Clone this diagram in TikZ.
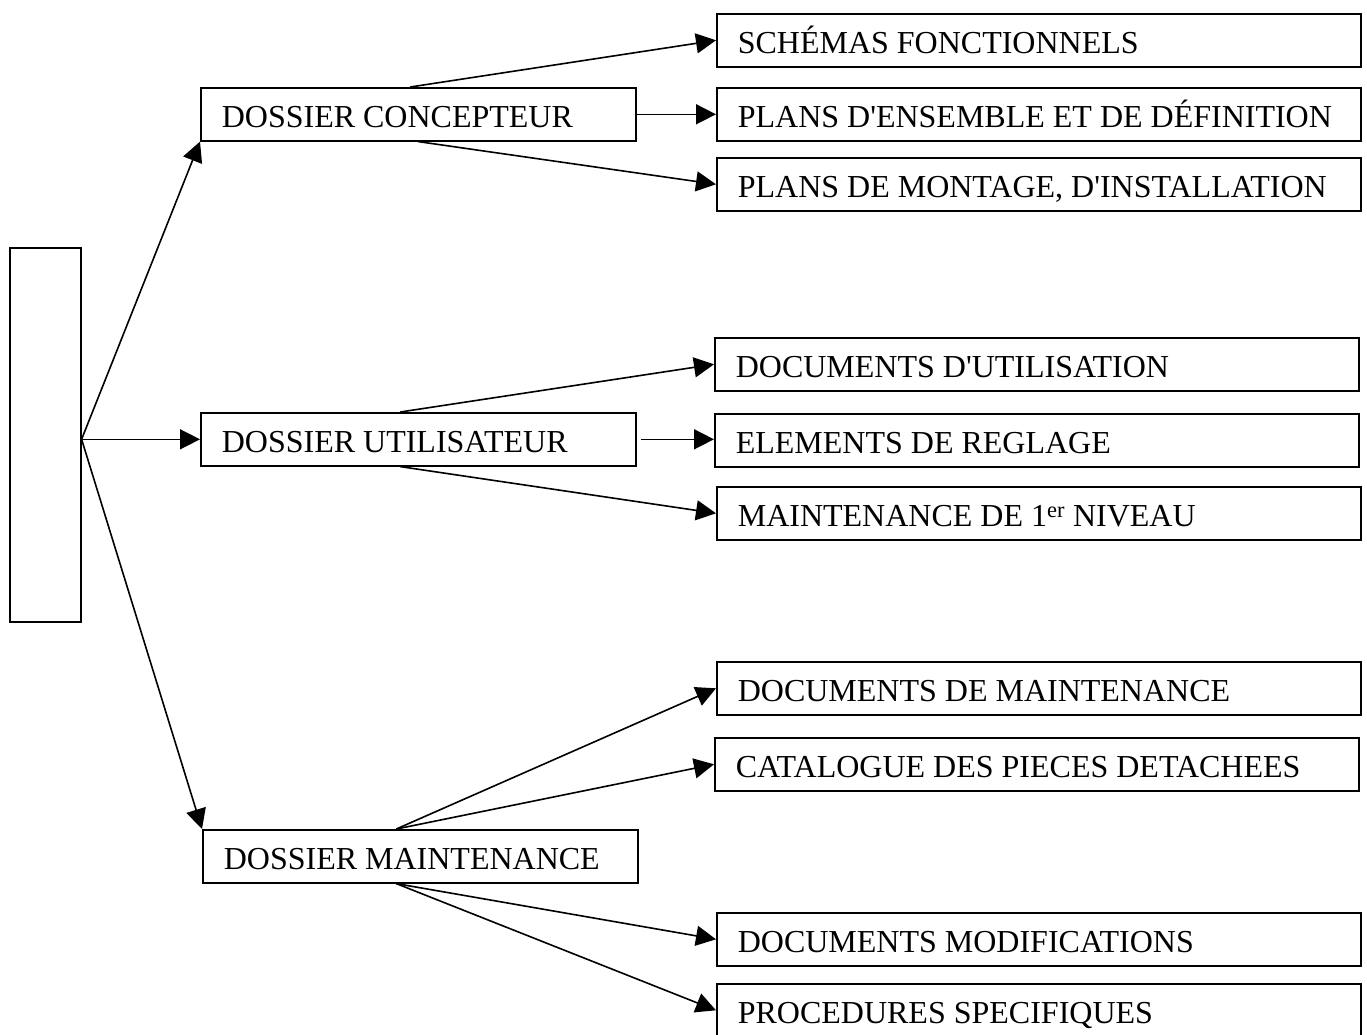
\documentclass[tikz,border=0pt]{standalone}
\usepackage{fontspec}
\setmainfont{Liberation Serif}
\usetikzlibrary{arrows.meta}
% left-aligned label of a fixed width (the box width minus the insets)
\newcommand\fixedlabel[2]{\makebox[#1][l]{#2}}
\begin{document}
\begin{tikzpicture}[x=1pt,y=-1pt,
  frame/.style={draw, line width=1.6pt, anchor=north west, inner ysep=0pt,
    inner xsep=21pt, minimum height=53pt, text height=27pt, text depth=0pt,
    font=\fontsize{32}{38}\selectfont},
  conn/.style={line width=1.6pt, -{Triangle[length=20pt,width=20pt]}}]
\useasboundingbox (0,0) rectangle (1367,1034);

% root block
\node[draw, line width=1.6pt, anchor=north west, inner sep=0pt,
      minimum width=71pt, minimum height=374pt] (root) at (9,247) {};

% the three dossiers
\node[frame] (conc) at (200,87)  {\fixedlabel{393pt}{DOSSIER CONCEPTEUR}};
\node[frame] (util) at (200,412) {\fixedlabel{393pt}{DOSSIER UTILISATEUR}};
\node[frame] (mont) at (202,829) {\fixedlabel{393pt}{DOSSIER MAINTENANCE}};

% documents of each dossier
\node[frame] (c1) at (716,13)  {\fixedlabel{602pt}{SCHÉMAS FONCTIONNELS}};
\node[frame] (c2) at (716,87)  {\fixedlabel{602pt}{PLANS D\textquotesingle ENSEMBLE ET DE DÉFINITION}};
\node[frame] (c3) at (716,157) {\fixedlabel{602pt}{PLANS DE MONTAGE, D\textquotesingle INSTALLATION}};
\node[frame] (u1) at (714,337) {\fixedlabel{602pt}{DOCUMENTS D\textquotesingle UTILISATION}};
\node[frame] (u2) at (714,413) {\fixedlabel{602pt}{ELEMENTS DE REGLAGE}};
\node[frame] (u3) at (716,486) {\fixedlabel{602pt}{MAINTENANCE DE 1\textsuperscript{er} NIVEAU}};
\node[frame] (m1) at (716,661) {\fixedlabel{602pt}{DOCUMENTS DE MAINTENANCE}};
\node[frame] (m2) at (714,737) {\fixedlabel{602pt}{CATALOGUE DES PIECES DETACHEES}};
\node[frame] (m3) at (716,912) {\fixedlabel{602pt}{DOCUMENTS MODIFICATIONS}};
\node[frame] (m4) at (716,983) {\fixedlabel{602pt}{PROCEDURES SPECIFIQUES}};

% common start point on the root block
\coordinate (hub) at (root.east |- util.west);

% root to dossiers
\draw[conn] (hub) -- (conc.south west);
\draw[conn] (hub) -- (util.west);
\draw[conn] (hub) -- (mont.north west);

% dossier concepteur
\draw[conn] ([xshift=-8pt]conc.north) -- (c1.west);
\draw[conn] (conc.east) -- (conc.east -| c2.west);
\draw[conn] (conc.south) -- (c3.west);

% dossier utilisateur
\draw[conn] ([xshift=-18pt]util.north) -- (u1.west);
\draw[conn] ([xshift=4pt]util.east) -- (util.east -| u2.west);
\draw[conn] ([xshift=-18pt]util.south) -- (u3.west);

% dossier maintenance
\draw[conn] ([xshift=-24pt]mont.north) -- (m1.west);
\draw[conn] ([xshift=-24pt]mont.north) -- (m2.west);
\draw[conn] ([xshift=-24pt]mont.south) -- (m3.west);
\draw[conn] ([xshift=-24pt]mont.south) -- (m4.west);
\end{tikzpicture}
\end{document}
